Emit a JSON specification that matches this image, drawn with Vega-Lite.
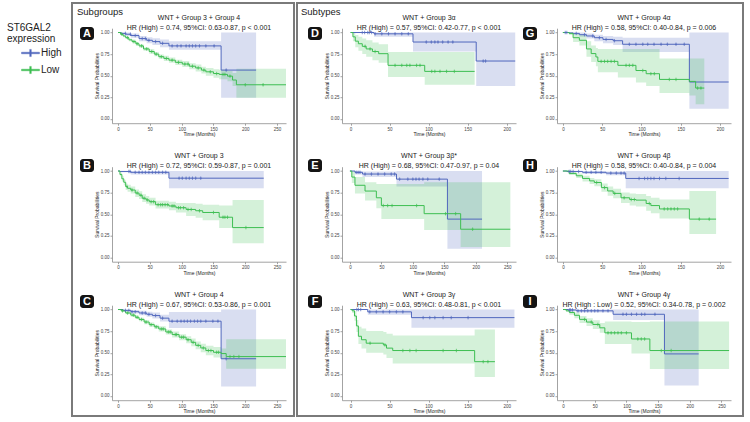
{
  "$schema": "https://vega.github.io/schema/vega-lite/v6.json",
  "padding": {"left": 7, "top": 2, "right": 0, "bottom": 0},
  "background": "white",
  "config": {
    "font": "Liberation Sans",
    "view": {"stroke": null},
    "range": {"category": ["#5067BD", "#3DBE52"]},
    "axis": {"grid": false, "domainColor": "#8c8c8c", "domainWidth": 0.8, "tickColor": "#8c8c8c", "tickWidth": 0.8, "tickSize": 2, "labelFont": "Liberation Sans", "labelFontSize": 4.5, "labelColor": "#444444", "labelPadding": 1, "labelFlush": false, "labelOverlap": false, "titleFont": "Liberation Sans", "titleFontSize": 5, "titleFontWeight": "normal", "titleColor": "#222222", "titlePadding": 1},
    "title": {"font": "Liberation Sans", "fontSize": 7, "fontWeight": "normal", "color": "#1a1a1a", "subtitleFont": "Liberation Sans", "subtitleFontSize": 7, "subtitleColor": "#1a1a1a", "subtitlePadding": 3, "offset": -2.5},
    "legend": {"orient": "none", "legendX": 0, "legendY": 21, "titleFont": "Liberation Sans", "titleFontSize": 10, "titleFontWeight": "normal", "titleColor": "#222222", "titleLineHeight": 10.5, "titlePadding": 0, "labelFont": "Liberation Sans", "labelFontSize": 10, "labelColor": "#222222", "labelOffset": 1, "symbolType": "M-1,-0.09H1V0.09H-1ZM-0.09,-0.4H0.09V0.4H-0.09Z", "symbolSize": 324, "symbolStrokeWidth": 0.4, "symbolOpacity": 1, "symbolOffset": 14, "rowPadding": 2, "padding": 0}
  },
  "datasets": {
    "km": [
      {"p":"A","g":"High","t":0,"s":1,"lo":1,"hi":1},
      {"p":"A","g":"High","t":5,"s":0.99,"lo":0.975,"hi":1},
      {"p":"A","g":"High","t":12,"s":0.98,"lo":0.96,"hi":1},
      {"p":"A","g":"High","t":20,"s":0.965,"lo":0.94,"hi":0.99},
      {"p":"A","g":"High","t":33,"s":0.93,"lo":0.9,"hi":0.96},
      {"p":"A","g":"High","t":45,"s":0.91,"lo":0.875,"hi":0.945},
      {"p":"A","g":"High","t":54,"s":0.895,"lo":0.855,"hi":0.935},
      {"p":"A","g":"High","t":66,"s":0.875,"lo":0.83,"hi":0.92},
      {"p":"A","g":"High","t":80,"s":0.845,"lo":0.8,"hi":0.9},
      {"p":"A","g":"High","t":162,"s":0.565,"lo":0.245,"hi":1},
      {"p":"A","g":"High","t":217,"s":0.565,"lo":0.245,"hi":1},
      {"p":"A","g":"High","t":11.6,"s":0.99,"c":1},
      {"p":"A","g":"High","t":19.5,"s":0.98,"c":1},
      {"p":"A","g":"High","t":27,"s":0.965,"c":1},
      {"p":"A","g":"High","t":38,"s":0.93,"c":1},
      {"p":"A","g":"High","t":43,"s":0.93,"c":1},
      {"p":"A","g":"High","t":48.5,"s":0.91,"c":1},
      {"p":"A","g":"High","t":59,"s":0.895,"c":1},
      {"p":"A","g":"High","t":70,"s":0.875,"c":1},
      {"p":"A","g":"High","t":85,"s":0.845,"c":1},
      {"p":"A","g":"High","t":93,"s":0.845,"c":1},
      {"p":"A","g":"High","t":99,"s":0.845,"c":1},
      {"p":"A","g":"High","t":107,"s":0.845,"c":1},
      {"p":"A","g":"High","t":112,"s":0.845,"c":1},
      {"p":"A","g":"High","t":117,"s":0.845,"c":1},
      {"p":"A","g":"High","t":122,"s":0.845,"c":1},
      {"p":"A","g":"High","t":128,"s":0.845,"c":1},
      {"p":"A","g":"High","t":138,"s":0.845,"c":1},
      {"p":"A","g":"High","t":151,"s":0.845,"c":1},
      {"p":"A","g":"High","t":170,"s":0.565,"c":1},
      {"p":"A","g":"Low","t":0,"s":1,"lo":1,"hi":1},
      {"p":"A","g":"Low","t":4,"s":0.98,"lo":0.97,"hi":0.99},
      {"p":"A","g":"Low","t":8,"s":0.96,"lo":0.945,"hi":0.975},
      {"p":"A","g":"Low","t":12,"s":0.94,"lo":0.925,"hi":0.955},
      {"p":"A","g":"Low","t":17,"s":0.915,"lo":0.9,"hi":0.93},
      {"p":"A","g":"Low","t":22,"s":0.895,"lo":0.875,"hi":0.915},
      {"p":"A","g":"Low","t":28,"s":0.87,"lo":0.85,"hi":0.89},
      {"p":"A","g":"Low","t":33,"s":0.845,"lo":0.825,"hi":0.865},
      {"p":"A","g":"Low","t":40,"s":0.81,"lo":0.79,"hi":0.83},
      {"p":"A","g":"Low","t":49,"s":0.78,"lo":0.755,"hi":0.805},
      {"p":"A","g":"Low","t":57,"s":0.75,"lo":0.725,"hi":0.775},
      {"p":"A","g":"Low","t":64,"s":0.72,"lo":0.695,"hi":0.745},
      {"p":"A","g":"Low","t":72,"s":0.7,"lo":0.67,"hi":0.73},
      {"p":"A","g":"Low","t":80,"s":0.68,"lo":0.65,"hi":0.71},
      {"p":"A","g":"Low","t":90,"s":0.655,"lo":0.625,"hi":0.685},
      {"p":"A","g":"Low","t":101,"s":0.635,"lo":0.6,"hi":0.67},
      {"p":"A","g":"Low","t":112,"s":0.61,"lo":0.575,"hi":0.645},
      {"p":"A","g":"Low","t":122,"s":0.59,"lo":0.55,"hi":0.63},
      {"p":"A","g":"Low","t":131,"s":0.565,"lo":0.525,"hi":0.605},
      {"p":"A","g":"Low","t":138,"s":0.545,"lo":0.5,"hi":0.59},
      {"p":"A","g":"Low","t":150,"s":0.525,"lo":0.475,"hi":0.575},
      {"p":"A","g":"Low","t":159,"s":0.515,"lo":0.46,"hi":0.57},
      {"p":"A","g":"Low","t":172,"s":0.495,"lo":0.435,"hi":0.555},
      {"p":"A","g":"Low","t":180,"s":0.45,"lo":0.38,"hi":0.53},
      {"p":"A","g":"Low","t":186,"s":0.395,"lo":0.245,"hi":0.58},
      {"p":"A","g":"Low","t":264,"s":0.395,"lo":0.245,"hi":0.58},
      {"p":"A","g":"Low","t":6,"s":0.98,"c":1},
      {"p":"A","g":"Low","t":15,"s":0.94,"c":1},
      {"p":"A","g":"Low","t":25,"s":0.895,"c":1},
      {"p":"A","g":"Low","t":30,"s":0.87,"c":1},
      {"p":"A","g":"Low","t":37,"s":0.845,"c":1},
      {"p":"A","g":"Low","t":45,"s":0.81,"c":1},
      {"p":"A","g":"Low","t":53,"s":0.78,"c":1},
      {"p":"A","g":"Low","t":60,"s":0.75,"c":1},
      {"p":"A","g":"Low","t":68,"s":0.72,"c":1},
      {"p":"A","g":"Low","t":76,"s":0.7,"c":1},
      {"p":"A","g":"Low","t":85,"s":0.68,"c":1},
      {"p":"A","g":"Low","t":95,"s":0.655,"c":1},
      {"p":"A","g":"Low","t":105,"s":0.635,"c":1},
      {"p":"A","g":"Low","t":110,"s":0.635,"c":1},
      {"p":"A","g":"Low","t":117,"s":0.61,"c":1},
      {"p":"A","g":"Low","t":126,"s":0.59,"c":1},
      {"p":"A","g":"Low","t":135,"s":0.565,"c":1},
      {"p":"A","g":"Low","t":145,"s":0.545,"c":1},
      {"p":"A","g":"Low","t":155,"s":0.525,"c":1},
      {"p":"A","g":"Low","t":165,"s":0.515,"c":1},
      {"p":"A","g":"Low","t":168,"s":0.515,"c":1},
      {"p":"A","g":"Low","t":176,"s":0.495,"c":1},
      {"p":"A","g":"Low","t":200,"s":0.395,"c":1},
      {"p":"A","g":"Low","t":228,"s":0.395,"c":1},

      {"p":"B","g":"High","t":0,"s":1,"lo":1,"hi":1},
      {"p":"B","g":"High","t":3,"s":0.995,"lo":0.985,"hi":1},
      {"p":"B","g":"High","t":20,"s":0.985,"lo":0.96,"hi":1},
      {"p":"B","g":"High","t":80,"s":0.917,"lo":0.8,"hi":1},
      {"p":"B","g":"High","t":229,"s":0.917,"lo":0.8,"hi":1},
      {"p":"B","g":"High","t":17,"s":0.995,"c":1},
      {"p":"B","g":"High","t":19,"s":0.995,"c":1},
      {"p":"B","g":"High","t":27,"s":0.985,"c":1},
      {"p":"B","g":"High","t":33,"s":0.985,"c":1},
      {"p":"B","g":"High","t":38,"s":0.985,"c":1},
      {"p":"B","g":"High","t":43,"s":0.985,"c":1},
      {"p":"B","g":"High","t":48.5,"s":0.985,"c":1},
      {"p":"B","g":"High","t":54,"s":0.985,"c":1},
      {"p":"B","g":"High","t":59,"s":0.985,"c":1},
      {"p":"B","g":"High","t":64,"s":0.985,"c":1},
      {"p":"B","g":"High","t":70,"s":0.985,"c":1},
      {"p":"B","g":"High","t":75,"s":0.985,"c":1},
      {"p":"B","g":"High","t":96,"s":0.917,"c":1},
      {"p":"B","g":"High","t":101,"s":0.917,"c":1},
      {"p":"B","g":"High","t":107,"s":0.917,"c":1},
      {"p":"B","g":"High","t":112,"s":0.917,"c":1},
      {"p":"B","g":"High","t":117,"s":0.917,"c":1},
      {"p":"B","g":"High","t":122,"s":0.917,"c":1},
      {"p":"B","g":"High","t":130,"s":0.917,"c":1},
      {"p":"B","g":"Low","t":0,"s":1,"lo":1,"hi":1},
      {"p":"B","g":"Low","t":3,"s":0.96,"lo":0.94,"hi":0.98},
      {"p":"B","g":"Low","t":6,"s":0.91,"lo":0.88,"hi":0.94},
      {"p":"B","g":"Low","t":9,"s":0.87,"lo":0.835,"hi":0.9},
      {"p":"B","g":"Low","t":12,"s":0.82,"lo":0.78,"hi":0.855},
      {"p":"B","g":"Low","t":15,"s":0.8,"lo":0.76,"hi":0.84},
      {"p":"B","g":"Low","t":20,"s":0.78,"lo":0.74,"hi":0.82},
      {"p":"B","g":"Low","t":27,"s":0.745,"lo":0.7,"hi":0.785},
      {"p":"B","g":"Low","t":33,"s":0.72,"lo":0.675,"hi":0.765},
      {"p":"B","g":"Low","t":38,"s":0.685,"lo":0.64,"hi":0.73},
      {"p":"B","g":"Low","t":44,"s":0.665,"lo":0.62,"hi":0.71},
      {"p":"B","g":"Low","t":49,"s":0.645,"lo":0.6,"hi":0.69},
      {"p":"B","g":"Low","t":59,"s":0.61,"lo":0.565,"hi":0.655},
      {"p":"B","g":"Low","t":80,"s":0.595,"lo":0.545,"hi":0.645},
      {"p":"B","g":"Low","t":91,"s":0.575,"lo":0.52,"hi":0.63},
      {"p":"B","g":"Low","t":107,"s":0.555,"lo":0.48,"hi":0.63},
      {"p":"B","g":"Low","t":122,"s":0.54,"lo":0.46,"hi":0.62},
      {"p":"B","g":"Low","t":133,"s":0.52,"lo":0.43,"hi":0.61},
      {"p":"B","g":"Low","t":159,"s":0.465,"lo":0.34,"hi":0.6},
      {"p":"B","g":"Low","t":180,"s":0.345,"lo":0.165,"hi":0.665},
      {"p":"B","g":"Low","t":229,"s":0.345,"lo":0.165,"hi":0.665},
      {"p":"B","g":"Low","t":14,"s":0.82,"c":1},
      {"p":"B","g":"Low","t":22,"s":0.78,"c":1},
      {"p":"B","g":"Low","t":30,"s":0.745,"c":1},
      {"p":"B","g":"Low","t":36,"s":0.72,"c":1},
      {"p":"B","g":"Low","t":41,"s":0.685,"c":1},
      {"p":"B","g":"Low","t":46,"s":0.665,"c":1},
      {"p":"B","g":"Low","t":52,"s":0.645,"c":1},
      {"p":"B","g":"Low","t":56,"s":0.645,"c":1},
      {"p":"B","g":"Low","t":63,"s":0.61,"c":1},
      {"p":"B","g":"Low","t":67,"s":0.61,"c":1},
      {"p":"B","g":"Low","t":70,"s":0.61,"c":1},
      {"p":"B","g":"Low","t":74,"s":0.61,"c":1},
      {"p":"B","g":"Low","t":78,"s":0.61,"c":1},
      {"p":"B","g":"Low","t":85,"s":0.595,"c":1},
      {"p":"B","g":"Low","t":88,"s":0.595,"c":1},
      {"p":"B","g":"Low","t":95,"s":0.575,"c":1},
      {"p":"B","g":"Low","t":98,"s":0.575,"c":1},
      {"p":"B","g":"Low","t":103,"s":0.575,"c":1},
      {"p":"B","g":"Low","t":110,"s":0.555,"c":1},
      {"p":"B","g":"Low","t":115,"s":0.555,"c":1},
      {"p":"B","g":"Low","t":128,"s":0.54,"c":1},
      {"p":"B","g":"Low","t":150,"s":0.52,"c":1},
      {"p":"B","g":"Low","t":165,"s":0.465,"c":1},
      {"p":"B","g":"Low","t":168,"s":0.465,"c":1},
      {"p":"B","g":"Low","t":172,"s":0.465,"c":1},
      {"p":"B","g":"Low","t":201,"s":0.345,"c":1},

      {"p":"C","g":"High","t":0,"s":1,"lo":1,"hi":1},
      {"p":"C","g":"High","t":8,"s":0.99,"lo":0.975,"hi":1},
      {"p":"C","g":"High","t":20,"s":0.975,"lo":0.955,"hi":0.995},
      {"p":"C","g":"High","t":33,"s":0.96,"lo":0.935,"hi":0.985},
      {"p":"C","g":"High","t":45,"s":0.945,"lo":0.915,"hi":0.975},
      {"p":"C","g":"High","t":54,"s":0.93,"lo":0.895,"hi":0.965},
      {"p":"C","g":"High","t":66,"s":0.9,"lo":0.86,"hi":0.94},
      {"p":"C","g":"High","t":80,"s":0.865,"lo":0.785,"hi":0.97},
      {"p":"C","g":"High","t":162,"s":0.43,"lo":0.11,"hi":1},
      {"p":"C","g":"High","t":217,"s":0.43,"lo":0.11,"hi":1},
      {"p":"C","g":"High","t":11.6,"s":0.99,"c":1},
      {"p":"C","g":"High","t":17,"s":0.99,"c":1},
      {"p":"C","g":"High","t":22,"s":0.975,"c":1},
      {"p":"C","g":"High","t":27,"s":0.975,"c":1},
      {"p":"C","g":"High","t":38,"s":0.96,"c":1},
      {"p":"C","g":"High","t":43,"s":0.96,"c":1},
      {"p":"C","g":"High","t":48.5,"s":0.945,"c":1},
      {"p":"C","g":"High","t":59,"s":0.93,"c":1},
      {"p":"C","g":"High","t":70,"s":0.9,"c":1},
      {"p":"C","g":"High","t":85,"s":0.865,"c":1},
      {"p":"C","g":"High","t":93,"s":0.865,"c":1},
      {"p":"C","g":"High","t":99,"s":0.865,"c":1},
      {"p":"C","g":"High","t":104,"s":0.865,"c":1},
      {"p":"C","g":"High","t":109,"s":0.865,"c":1},
      {"p":"C","g":"High","t":114,"s":0.865,"c":1},
      {"p":"C","g":"High","t":120,"s":0.865,"c":1},
      {"p":"C","g":"High","t":125,"s":0.865,"c":1},
      {"p":"C","g":"High","t":130,"s":0.865,"c":1},
      {"p":"C","g":"High","t":138,"s":0.865,"c":1},
      {"p":"C","g":"High","t":149,"s":0.865,"c":1},
      {"p":"C","g":"High","t":157,"s":0.865,"c":1},
      {"p":"C","g":"High","t":170,"s":0.43,"c":1},
      {"p":"C","g":"Low","t":0,"s":1,"lo":1,"hi":1},
      {"p":"C","g":"Low","t":5,"s":0.985,"lo":0.975,"hi":0.995},
      {"p":"C","g":"Low","t":12,"s":0.96,"lo":0.945,"hi":0.975},
      {"p":"C","g":"Low","t":20,"s":0.935,"lo":0.915,"hi":0.955},
      {"p":"C","g":"Low","t":27,"s":0.91,"lo":0.89,"hi":0.93},
      {"p":"C","g":"Low","t":33,"s":0.885,"lo":0.865,"hi":0.905},
      {"p":"C","g":"Low","t":41,"s":0.855,"lo":0.83,"hi":0.88},
      {"p":"C","g":"Low","t":49,"s":0.825,"lo":0.8,"hi":0.85},
      {"p":"C","g":"Low","t":57,"s":0.8,"lo":0.775,"hi":0.825},
      {"p":"C","g":"Low","t":64,"s":0.775,"lo":0.745,"hi":0.805},
      {"p":"C","g":"Low","t":75,"s":0.74,"lo":0.71,"hi":0.77},
      {"p":"C","g":"Low","t":85,"s":0.71,"lo":0.675,"hi":0.745},
      {"p":"C","g":"Low","t":96,"s":0.68,"lo":0.645,"hi":0.715},
      {"p":"C","g":"Low","t":107,"s":0.65,"lo":0.61,"hi":0.69},
      {"p":"C","g":"Low","t":115,"s":0.62,"lo":0.575,"hi":0.665},
      {"p":"C","g":"Low","t":122,"s":0.585,"lo":0.54,"hi":0.63},
      {"p":"C","g":"Low","t":130,"s":0.555,"lo":0.505,"hi":0.605},
      {"p":"C","g":"Low","t":138,"s":0.525,"lo":0.47,"hi":0.58},
      {"p":"C","g":"Low","t":150,"s":0.505,"lo":0.445,"hi":0.565},
      {"p":"C","g":"Low","t":162,"s":0.49,"lo":0.43,"hi":0.55},
      {"p":"C","g":"Low","t":170,"s":0.455,"lo":0.315,"hi":0.655},
      {"p":"C","g":"Low","t":264,"s":0.455,"lo":0.315,"hi":0.655},
      {"p":"C","g":"Low","t":7,"s":0.985,"c":1},
      {"p":"C","g":"Low","t":15,"s":0.96,"c":1},
      {"p":"C","g":"Low","t":24,"s":0.935,"c":1},
      {"p":"C","g":"Low","t":30,"s":0.91,"c":1},
      {"p":"C","g":"Low","t":37,"s":0.885,"c":1},
      {"p":"C","g":"Low","t":44,"s":0.855,"c":1},
      {"p":"C","g":"Low","t":52,"s":0.825,"c":1},
      {"p":"C","g":"Low","t":60,"s":0.8,"c":1},
      {"p":"C","g":"Low","t":68,"s":0.775,"c":1},
      {"p":"C","g":"Low","t":71,"s":0.775,"c":1},
      {"p":"C","g":"Low","t":79,"s":0.74,"c":1},
      {"p":"C","g":"Low","t":82,"s":0.74,"c":1},
      {"p":"C","g":"Low","t":90,"s":0.71,"c":1},
      {"p":"C","g":"Low","t":92,"s":0.71,"c":1},
      {"p":"C","g":"Low","t":100,"s":0.68,"c":1},
      {"p":"C","g":"Low","t":103,"s":0.68,"c":1},
      {"p":"C","g":"Low","t":110,"s":0.65,"c":1},
      {"p":"C","g":"Low","t":118,"s":0.62,"c":1},
      {"p":"C","g":"Low","t":126,"s":0.585,"c":1},
      {"p":"C","g":"Low","t":134,"s":0.555,"c":1},
      {"p":"C","g":"Low","t":142,"s":0.525,"c":1},
      {"p":"C","g":"Low","t":146,"s":0.525,"c":1},
      {"p":"C","g":"Low","t":155,"s":0.505,"c":1},
      {"p":"C","g":"Low","t":158,"s":0.505,"c":1},
      {"p":"C","g":"Low","t":176,"s":0.455,"c":1},
      {"p":"C","g":"Low","t":182,"s":0.455,"c":1},
      {"p":"C","g":"Low","t":190,"s":0.455,"c":1},

      {"p":"D","g":"High","t":0,"s":1,"lo":1,"hi":1},
      {"p":"D","g":"High","t":30,"s":0.985,"lo":0.95,"hi":1},
      {"p":"D","g":"High","t":80,"s":0.89,"lo":0.78,"hi":1},
      {"p":"D","g":"High","t":161,"s":0.67,"lo":0.38,"hi":1},
      {"p":"D","g":"High","t":211,"s":0.67,"lo":0.38,"hi":1},
      {"p":"D","g":"High","t":15,"s":1,"c":1},
      {"p":"D","g":"High","t":18,"s":1,"c":1},
      {"p":"D","g":"High","t":22,"s":1,"c":1},
      {"p":"D","g":"High","t":24,"s":1,"c":1},
      {"p":"D","g":"High","t":27,"s":1,"c":1},
      {"p":"D","g":"High","t":31.5,"s":0.985,"c":1},
      {"p":"D","g":"High","t":40,"s":0.985,"c":1},
      {"p":"D","g":"High","t":48.6,"s":0.985,"c":1},
      {"p":"D","g":"High","t":57,"s":0.985,"c":1},
      {"p":"D","g":"High","t":65.6,"s":0.985,"c":1},
      {"p":"D","g":"High","t":74,"s":0.985,"c":1},
      {"p":"D","g":"High","t":97,"s":0.89,"c":1},
      {"p":"D","g":"High","t":103.5,"s":0.89,"c":1},
      {"p":"D","g":"High","t":108,"s":0.89,"c":1},
      {"p":"D","g":"High","t":112,"s":0.89,"c":1},
      {"p":"D","g":"High","t":118,"s":0.89,"c":1},
      {"p":"D","g":"High","t":125,"s":0.89,"c":1},
      {"p":"D","g":"High","t":131,"s":0.89,"c":1},
      {"p":"D","g":"High","t":170,"s":0.67,"c":1},
      {"p":"D","g":"High","t":173,"s":0.67,"c":1},
      {"p":"D","g":"Low","t":0,"s":1,"lo":1,"hi":1},
      {"p":"D","g":"Low","t":3,"s":0.95,"lo":0.9,"hi":1},
      {"p":"D","g":"Low","t":6,"s":0.9,"lo":0.83,"hi":0.97},
      {"p":"D","g":"Low","t":10,"s":0.87,"lo":0.79,"hi":0.95},
      {"p":"D","g":"Low","t":15,"s":0.84,"lo":0.75,"hi":0.93},
      {"p":"D","g":"Low","t":20,"s":0.81,"lo":0.72,"hi":0.91},
      {"p":"D","g":"Low","t":28,"s":0.78,"lo":0.68,"hi":0.885},
      {"p":"D","g":"Low","t":36,"s":0.755,"lo":0.65,"hi":0.865},
      {"p":"D","g":"Low","t":48,"s":0.62,"lo":0.485,"hi":0.775},
      {"p":"D","g":"Low","t":95,"s":0.55,"lo":0.395,"hi":0.775},
      {"p":"D","g":"Low","t":159,"s":0.55,"lo":0.395,"hi":0.775},
      {"p":"D","g":"Low","t":18.6,"s":0.84,"c":1},
      {"p":"D","g":"Low","t":25,"s":0.81,"c":1},
      {"p":"D","g":"Low","t":31.4,"s":0.78,"c":1},
      {"p":"D","g":"Low","t":57,"s":0.62,"c":1},
      {"p":"D","g":"Low","t":65.6,"s":0.62,"c":1},
      {"p":"D","g":"Low","t":72,"s":0.62,"c":1},
      {"p":"D","g":"Low","t":76,"s":0.62,"c":1},
      {"p":"D","g":"Low","t":84.6,"s":0.62,"c":1},
      {"p":"D","g":"Low","t":89,"s":0.62,"c":1},
      {"p":"D","g":"Low","t":104,"s":0.55,"c":1},
      {"p":"D","g":"Low","t":108,"s":0.55,"c":1},
      {"p":"D","g":"Low","t":114.6,"s":0.55,"c":1},
      {"p":"D","g":"Low","t":123,"s":0.55,"c":1},
      {"p":"D","g":"Low","t":133,"s":0.55,"c":1},

      {"p":"E","g":"High","t":0,"s":1,"lo":1,"hi":1},
      {"p":"E","g":"High","t":8,"s":0.985,"lo":0.96,"hi":1},
      {"p":"E","g":"High","t":20,"s":0.965,"lo":0.93,"hi":0.995},
      {"p":"E","g":"High","t":74,"s":0.906,"lo":0.82,"hi":1},
      {"p":"E","g":"High","t":155,"s":0.443,"lo":0.1,"hi":1},
      {"p":"E","g":"High","t":210,"s":0.443,"lo":0.1,"hi":1},
      {"p":"E","g":"High","t":10,"s":0.985,"c":1},
      {"p":"E","g":"High","t":13,"s":0.985,"c":1},
      {"p":"E","g":"High","t":16,"s":0.985,"c":1},
      {"p":"E","g":"High","t":24,"s":0.965,"c":1},
      {"p":"E","g":"High","t":34.2,"s":0.965,"c":1},
      {"p":"E","g":"High","t":44.7,"s":0.965,"c":1},
      {"p":"E","g":"High","t":55.2,"s":0.965,"c":1},
      {"p":"E","g":"High","t":65.7,"s":0.965,"c":1},
      {"p":"E","g":"High","t":71,"s":0.965,"c":1},
      {"p":"E","g":"High","t":79,"s":0.906,"c":1},
      {"p":"E","g":"High","t":92,"s":0.906,"c":1},
      {"p":"E","g":"High","t":100,"s":0.906,"c":1},
      {"p":"E","g":"High","t":105,"s":0.906,"c":1},
      {"p":"E","g":"High","t":110,"s":0.906,"c":1},
      {"p":"E","g":"High","t":116,"s":0.906,"c":1},
      {"p":"E","g":"High","t":123.7,"s":0.906,"c":1},
      {"p":"E","g":"High","t":142,"s":0.906,"c":1},
      {"p":"E","g":"Low","t":0,"s":1,"lo":1,"hi":1},
      {"p":"E","g":"Low","t":3,"s":0.93,"lo":0.86,"hi":1},
      {"p":"E","g":"Low","t":8,"s":0.835,"lo":0.74,"hi":0.93},
      {"p":"E","g":"Low","t":24,"s":0.768,"lo":0.66,"hi":0.87},
      {"p":"E","g":"Low","t":42,"s":0.69,"lo":0.57,"hi":0.85},
      {"p":"E","g":"Low","t":50,"s":0.6,"lo":0.445,"hi":0.85},
      {"p":"E","g":"Low","t":118,"s":0.506,"lo":0.318,"hi":0.87},
      {"p":"E","g":"Low","t":176,"s":0.326,"lo":0.12,"hi":0.87},
      {"p":"E","g":"Low","t":255,"s":0.326,"lo":0.12,"hi":0.87},
      {"p":"E","g":"Low","t":53,"s":0.6,"c":1},
      {"p":"E","g":"Low","t":60,"s":0.6,"c":1},
      {"p":"E","g":"Low","t":67,"s":0.6,"c":1},
      {"p":"E","g":"Low","t":106,"s":0.6,"c":1},
      {"p":"E","g":"Low","t":152,"s":0.506,"c":1},
      {"p":"E","g":"Low","t":168,"s":0.506,"c":1},
      {"p":"E","g":"Low","t":195,"s":0.326,"c":1},

      {"p":"F","g":"High","t":0,"s":1,"lo":1,"hi":1},
      {"p":"F","g":"High","t":22,"s":0.973,"lo":0.94,"hi":1},
      {"p":"F","g":"High","t":78,"s":0.906,"lo":0.79,"hi":1},
      {"p":"F","g":"High","t":210,"s":0.906,"lo":0.79,"hi":1},
      {"p":"F","g":"High","t":8,"s":1,"c":1},
      {"p":"F","g":"High","t":10,"s":1,"c":1},
      {"p":"F","g":"High","t":13,"s":1,"c":1},
      {"p":"F","g":"High","t":24.6,"s":0.973,"c":1},
      {"p":"F","g":"High","t":33,"s":0.973,"c":1},
      {"p":"F","g":"High","t":41.7,"s":0.973,"c":1},
      {"p":"F","g":"High","t":50,"s":0.973,"c":1},
      {"p":"F","g":"High","t":58.7,"s":0.973,"c":1},
      {"p":"F","g":"High","t":67,"s":0.973,"c":1},
      {"p":"F","g":"High","t":93,"s":0.906,"c":1},
      {"p":"F","g":"High","t":101.5,"s":0.906,"c":1},
      {"p":"F","g":"High","t":108,"s":0.906,"c":1},
      {"p":"F","g":"High","t":118.6,"s":0.906,"c":1},
      {"p":"F","g":"High","t":129,"s":0.906,"c":1},
      {"p":"F","g":"High","t":150.6,"s":0.906,"c":1},
      {"p":"F","g":"Low","t":0,"s":1,"lo":1,"hi":1},
      {"p":"F","g":"Low","t":2,"s":0.985,"lo":0.96,"hi":1},
      {"p":"F","g":"Low","t":5,"s":0.925,"lo":0.87,"hi":0.98},
      {"p":"F","g":"Low","t":7.5,"s":0.81,"lo":0.74,"hi":0.88},
      {"p":"F","g":"Low","t":10,"s":0.69,"lo":0.6,"hi":0.8},
      {"p":"F","g":"Low","t":14,"s":0.65,"lo":0.55,"hi":0.78},
      {"p":"F","g":"Low","t":20,"s":0.61,"lo":0.5,"hi":0.75},
      {"p":"F","g":"Low","t":42,"s":0.59,"lo":0.48,"hi":0.74},
      {"p":"F","g":"Low","t":46,"s":0.553,"lo":0.44,"hi":0.72},
      {"p":"F","g":"Low","t":54,"s":0.525,"lo":0.376,"hi":0.7},
      {"p":"F","g":"Low","t":159,"s":0.396,"lo":0.22,"hi":0.77},
      {"p":"F","g":"Low","t":185,"s":0.396,"lo":0.22,"hi":0.77},
      {"p":"F","g":"Low","t":25,"s":0.61,"c":1},
      {"p":"F","g":"Low","t":44,"s":0.59,"c":1},
      {"p":"F","g":"Low","t":67,"s":0.525,"c":1},
      {"p":"F","g":"Low","t":76,"s":0.525,"c":1},
      {"p":"F","g":"Low","t":84,"s":0.525,"c":1},
      {"p":"F","g":"Low","t":118.6,"s":0.525,"c":1},
      {"p":"F","g":"Low","t":135.6,"s":0.525,"c":1},
      {"p":"F","g":"Low","t":170,"s":0.396,"c":1},
      {"p":"F","g":"Low","t":176,"s":0.396,"c":1},

      {"p":"G","g":"High","t":0,"s":1,"lo":1,"hi":1},
      {"p":"G","g":"High","t":8,"s":0.995,"lo":0.985,"hi":1},
      {"p":"G","g":"High","t":13,"s":0.99,"lo":0.97,"hi":1},
      {"p":"G","g":"High","t":21,"s":0.975,"lo":0.95,"hi":1},
      {"p":"G","g":"High","t":30,"s":0.96,"lo":0.93,"hi":0.99},
      {"p":"G","g":"High","t":40,"s":0.94,"lo":0.9,"hi":0.975},
      {"p":"G","g":"High","t":51,"s":0.92,"lo":0.875,"hi":0.96},
      {"p":"G","g":"High","t":64,"s":0.905,"lo":0.855,"hi":0.95},
      {"p":"G","g":"High","t":76,"s":0.864,"lo":0.775,"hi":0.94},
      {"p":"G","g":"High","t":161,"s":0.427,"lo":0.116,"hi":1},
      {"p":"G","g":"High","t":211,"s":0.427,"lo":0.116,"hi":1},
      {"p":"G","g":"High","t":3,"s":1,"c":1},
      {"p":"G","g":"High","t":5,"s":1,"c":1},
      {"p":"G","g":"High","t":17,"s":0.99,"c":1},
      {"p":"G","g":"High","t":27.5,"s":0.975,"c":1},
      {"p":"G","g":"High","t":38,"s":0.96,"c":1},
      {"p":"G","g":"High","t":46.5,"s":0.94,"c":1},
      {"p":"G","g":"High","t":55,"s":0.92,"c":1},
      {"p":"G","g":"High","t":65.6,"s":0.905,"c":1},
      {"p":"G","g":"High","t":84.6,"s":0.864,"c":1},
      {"p":"G","g":"High","t":93,"s":0.864,"c":1},
      {"p":"G","g":"High","t":101.7,"s":0.864,"c":1},
      {"p":"G","g":"High","t":108,"s":0.864,"c":1},
      {"p":"G","g":"High","t":116,"s":0.864,"c":1},
      {"p":"G","g":"High","t":125,"s":0.864,"c":1},
      {"p":"G","g":"High","t":133,"s":0.864,"c":1},
      {"p":"G","g":"High","t":144,"s":0.864,"c":1},
      {"p":"G","g":"High","t":154.5,"s":0.864,"c":1},
      {"p":"G","g":"Low","t":0,"s":1,"lo":1,"hi":1},
      {"p":"G","g":"Low","t":8,"s":0.99,"lo":0.97,"hi":1},
      {"p":"G","g":"Low","t":13,"s":0.94,"lo":0.89,"hi":0.99},
      {"p":"G","g":"Low","t":21,"s":0.91,"lo":0.85,"hi":0.97},
      {"p":"G","g":"Low","t":30,"s":0.81,"lo":0.72,"hi":0.9},
      {"p":"G","g":"Low","t":36,"s":0.756,"lo":0.66,"hi":0.85},
      {"p":"G","g":"Low","t":42,"s":0.717,"lo":0.61,"hi":0.82},
      {"p":"G","g":"Low","t":44.5,"s":0.666,"lo":0.54,"hi":0.81},
      {"p":"G","g":"Low","t":70,"s":0.62,"lo":0.48,"hi":0.81},
      {"p":"G","g":"Low","t":93,"s":0.56,"lo":0.42,"hi":0.81},
      {"p":"G","g":"Low","t":106,"s":0.523,"lo":0.38,"hi":0.81},
      {"p":"G","g":"Low","t":123,"s":0.457,"lo":0.3,"hi":0.7},
      {"p":"G","g":"Low","t":161,"s":0.434,"lo":0.27,"hi":0.7},
      {"p":"G","g":"Low","t":169,"s":0.357,"lo":0.17,"hi":0.7},
      {"p":"G","g":"Low","t":180,"s":0.357,"lo":0.17,"hi":0.7},
      {"p":"G","g":"Low","t":48.7,"s":0.666,"c":1},
      {"p":"G","g":"Low","t":53,"s":0.666,"c":1},
      {"p":"G","g":"Low","t":57,"s":0.666,"c":1},
      {"p":"G","g":"Low","t":61.4,"s":0.666,"c":1},
      {"p":"G","g":"Low","t":65.6,"s":0.666,"c":1},
      {"p":"G","g":"Low","t":80.4,"s":0.62,"c":1},
      {"p":"G","g":"Low","t":84.6,"s":0.62,"c":1},
      {"p":"G","g":"Low","t":89,"s":0.62,"c":1},
      {"p":"G","g":"Low","t":101.7,"s":0.56,"c":1},
      {"p":"G","g":"Low","t":112,"s":0.523,"c":1},
      {"p":"G","g":"Low","t":116.4,"s":0.523,"c":1},
      {"p":"G","g":"Low","t":135.5,"s":0.457,"c":1},
      {"p":"G","g":"Low","t":144,"s":0.457,"c":1},
      {"p":"G","g":"Low","t":171.5,"s":0.357,"c":1},
      {"p":"G","g":"Low","t":175.7,"s":0.357,"c":1},

      {"p":"H","g":"High","t":0,"s":1,"lo":1,"hi":1},
      {"p":"H","g":"High","t":5,"s":0.995,"lo":0.985,"hi":1},
      {"p":"H","g":"High","t":25,"s":0.985,"lo":0.965,"hi":1},
      {"p":"H","g":"High","t":55,"s":0.976,"lo":0.95,"hi":0.995},
      {"p":"H","g":"High","t":80,"s":0.914,"lo":0.8,"hi":1},
      {"p":"H","g":"High","t":211,"s":0.914,"lo":0.8,"hi":1},
      {"p":"H","g":"High","t":8,"s":0.995,"c":1},
      {"p":"H","g":"High","t":10,"s":0.995,"c":1},
      {"p":"H","g":"High","t":13,"s":0.995,"c":1},
      {"p":"H","g":"High","t":20,"s":0.995,"c":1},
      {"p":"H","g":"High","t":29.6,"s":0.985,"c":1},
      {"p":"H","g":"High","t":36,"s":0.985,"c":1},
      {"p":"H","g":"High","t":42,"s":0.985,"c":1},
      {"p":"H","g":"High","t":48.7,"s":0.985,"c":1},
      {"p":"H","g":"High","t":61,"s":0.976,"c":1},
      {"p":"H","g":"High","t":68,"s":0.976,"c":1},
      {"p":"H","g":"High","t":74,"s":0.976,"c":1},
      {"p":"H","g":"High","t":78,"s":0.976,"c":1},
      {"p":"H","g":"High","t":97,"s":0.914,"c":1},
      {"p":"H","g":"High","t":104,"s":0.914,"c":1},
      {"p":"H","g":"High","t":108,"s":0.914,"c":1},
      {"p":"H","g":"High","t":112,"s":0.914,"c":1},
      {"p":"H","g":"High","t":116,"s":0.914,"c":1},
      {"p":"H","g":"High","t":123,"s":0.914,"c":1},
      {"p":"H","g":"High","t":131,"s":0.914,"c":1},
      {"p":"H","g":"High","t":148,"s":0.914,"c":1},
      {"p":"H","g":"Low","t":0,"s":1,"lo":1,"hi":1},
      {"p":"H","g":"Low","t":8,"s":0.972,"lo":0.955,"hi":0.99},
      {"p":"H","g":"Low","t":17,"s":0.945,"lo":0.92,"hi":0.97},
      {"p":"H","g":"Low","t":25,"s":0.914,"lo":0.88,"hi":0.945},
      {"p":"H","g":"Low","t":34,"s":0.886,"lo":0.85,"hi":0.92},
      {"p":"H","g":"Low","t":40,"s":0.867,"lo":0.825,"hi":0.905},
      {"p":"H","g":"Low","t":49,"s":0.808,"lo":0.76,"hi":0.855},
      {"p":"H","g":"Low","t":57,"s":0.769,"lo":0.715,"hi":0.82},
      {"p":"H","g":"Low","t":64,"s":0.741,"lo":0.685,"hi":0.795},
      {"p":"H","g":"Low","t":74,"s":0.69,"lo":0.63,"hi":0.75},
      {"p":"H","g":"Low","t":85,"s":0.67,"lo":0.6,"hi":0.74},
      {"p":"H","g":"Low","t":93,"s":0.663,"lo":0.59,"hi":0.735},
      {"p":"H","g":"Low","t":106,"s":0.624,"lo":0.54,"hi":0.71},
      {"p":"H","g":"Low","t":112,"s":0.6,"lo":0.51,"hi":0.69},
      {"p":"H","g":"Low","t":123,"s":0.561,"lo":0.45,"hi":0.67},
      {"p":"H","g":"Low","t":161,"s":0.443,"lo":0.27,"hi":0.77},
      {"p":"H","g":"Low","t":195,"s":0.443,"lo":0.27,"hi":0.77},
      {"p":"H","g":"Low","t":43,"s":0.867,"c":1},
      {"p":"H","g":"Low","t":53,"s":0.808,"c":1},
      {"p":"H","g":"Low","t":66,"s":0.741,"c":1},
      {"p":"H","g":"Low","t":78,"s":0.69,"c":1},
      {"p":"H","g":"Low","t":87,"s":0.67,"c":1},
      {"p":"H","g":"Low","t":91,"s":0.67,"c":1},
      {"p":"H","g":"Low","t":110,"s":0.624,"c":1},
      {"p":"H","g":"Low","t":129,"s":0.561,"c":1},
      {"p":"H","g":"Low","t":133.4,"s":0.561,"c":1},
      {"p":"H","g":"Low","t":137.6,"s":0.561,"c":1},
      {"p":"H","g":"Low","t":141.8,"s":0.561,"c":1},
      {"p":"H","g":"Low","t":146,"s":0.561,"c":1},
      {"p":"H","g":"Low","t":173.6,"s":0.443,"c":1},
      {"p":"H","g":"Low","t":186.3,"s":0.443,"c":1},

      {"p":"I","g":"High","t":0,"s":1,"lo":1,"hi":1},
      {"p":"I","g":"High","t":8,"s":0.995,"lo":0.98,"hi":1},
      {"p":"I","g":"High","t":21,"s":0.985,"lo":0.965,"hi":1},
      {"p":"I","g":"High","t":79,"s":0.945,"lo":0.88,"hi":1},
      {"p":"I","g":"High","t":160,"s":0.486,"lo":0.12,"hi":1},
      {"p":"I","g":"High","t":214,"s":0.486,"lo":0.12,"hi":1},
      {"p":"I","g":"High","t":10,"s":0.995,"c":1},
      {"p":"I","g":"High","t":12,"s":0.995,"c":1},
      {"p":"I","g":"High","t":15,"s":0.995,"c":1},
      {"p":"I","g":"High","t":23.6,"s":0.985,"c":1},
      {"p":"I","g":"High","t":29,"s":0.985,"c":1},
      {"p":"I","g":"High","t":34,"s":0.985,"c":1},
      {"p":"I","g":"High","t":39,"s":0.985,"c":1},
      {"p":"I","g":"High","t":44.6,"s":0.985,"c":1},
      {"p":"I","g":"High","t":50,"s":0.985,"c":1},
      {"p":"I","g":"High","t":55,"s":0.985,"c":1},
      {"p":"I","g":"High","t":63,"s":0.985,"c":1},
      {"p":"I","g":"High","t":71,"s":0.985,"c":1},
      {"p":"I","g":"High","t":94.6,"s":0.945,"c":1},
      {"p":"I","g":"High","t":100,"s":0.945,"c":1},
      {"p":"I","g":"High","t":108,"s":0.945,"c":1},
      {"p":"I","g":"High","t":116,"s":0.945,"c":1},
      {"p":"I","g":"High","t":124,"s":0.945,"c":1},
      {"p":"I","g":"High","t":129,"s":0.945,"c":1},
      {"p":"I","g":"High","t":145,"s":0.945,"c":1},
      {"p":"I","g":"Low","t":0,"s":1,"lo":1,"hi":1},
      {"p":"I","g":"Low","t":5,"s":0.985,"lo":0.97,"hi":1},
      {"p":"I","g":"Low","t":10,"s":0.965,"lo":0.94,"hi":0.99},
      {"p":"I","g":"Low","t":18,"s":0.933,"lo":0.9,"hi":0.965},
      {"p":"I","g":"Low","t":26,"s":0.886,"lo":0.845,"hi":0.925},
      {"p":"I","g":"Low","t":37,"s":0.855,"lo":0.81,"hi":0.9},
      {"p":"I","g":"Low","t":47,"s":0.827,"lo":0.775,"hi":0.875},
      {"p":"I","g":"Low","t":58,"s":0.788,"lo":0.73,"hi":0.845},
      {"p":"I","g":"Low","t":66,"s":0.73,"lo":0.6,"hi":0.86},
      {"p":"I","g":"Low","t":108,"s":0.659,"lo":0.49,"hi":0.855},
      {"p":"I","g":"Low","t":137,"s":0.525,"lo":0.31,"hi":0.86},
      {"p":"I","g":"Low","t":262,"s":0.525,"lo":0.31,"hi":0.86},
      {"p":"I","g":"Low","t":34,"s":0.886,"c":1},
      {"p":"I","g":"Low","t":44.6,"s":0.855,"c":1},
      {"p":"I","g":"Low","t":55,"s":0.827,"c":1},
      {"p":"I","g":"Low","t":71,"s":0.73,"c":1},
      {"p":"I","g":"Low","t":76,"s":0.73,"c":1},
      {"p":"I","g":"Low","t":81.4,"s":0.73,"c":1},
      {"p":"I","g":"Low","t":86.7,"s":0.73,"c":1},
      {"p":"I","g":"Low","t":92,"s":0.73,"c":1},
      {"p":"I","g":"Low","t":100,"s":0.73,"c":1},
      {"p":"I","g":"Low","t":118,"s":0.659,"c":1},
      {"p":"I","g":"Low","t":123.5,"s":0.659,"c":1},
      {"p":"I","g":"Low","t":128.7,"s":0.659,"c":1},
      {"p":"I","g":"Low","t":155,"s":0.525,"c":1},
      {"p":"I","g":"Low","t":170.6,"s":0.525,"c":1}
    ]
  },
  "spacing": 1,
  "hconcat": [
    {"width": 63, "height": 1, "data": {"values": []}, "mark": "point"},
    {
      "title": {"text": "Subgroups", "anchor": "start", "offset": -14, "dx": 6, "fontSize": 9.5, "color": "#222222", "fontWeight": "normal"},
      "spacing": 0,
      "hconcat": [
        {"width": 2, "height": 415, "view": {"fill": "#7a7a7a", "stroke": null}, "data": {"values": []}, "mark": "point"},
        {
          "spacing": 0,
          "vconcat": [
            {"width": 220, "height": 2, "view": {"fill": "#7a7a7a", "stroke": null}, "data": {"values": []}, "mark": "point"},
            {
              "spacing": 0,
              "hconcat": [
                {"width": 7, "height": 411, "data": {"values": []}, "mark": "point"},
                {"spacing": 0, "vconcat": [
                  {"width": 1, "height": 22.5, "data": {"values": []}, "mark": "point"},
                  {"width": 14, "height": 13, "view": {"fill": "#141414", "stroke": null, "cornerRadius": 3}, "data": {"values": [{}]}, "mark": {"type": "text", "text": "A", "color": "#ffffff", "fontSize": 11, "fontWeight": "bold", "baseline": "middle", "align": "center", "dy": 0.5}},
                  {"width": 1, "height": 119, "data": {"values": []}, "mark": "point"},
                  {"width": 14, "height": 13, "view": {"fill": "#141414", "stroke": null, "cornerRadius": 3}, "data": {"values": [{}]}, "mark": {"type": "text", "text": "B", "color": "#ffffff", "fontSize": 11, "fontWeight": "bold", "baseline": "middle", "align": "center", "dy": 0.5}},
                  {"width": 1, "height": 123, "data": {"values": []}, "mark": "point"},
                  {"width": 14, "height": 13, "view": {"fill": "#141414", "stroke": null, "cornerRadius": 3}, "data": {"values": [{}]}, "mark": {"type": "text", "text": "C", "color": "#ffffff", "fontSize": 11, "fontWeight": "bold", "baseline": "middle", "align": "center", "dy": 0.5}}
                ]},
                {"spacing": 8.2, "vconcat": [
                  {"width": 1, "height": 0.5, "data": {"values": []}, "mark": "point"},
                  {"spacing": 14.5, "vconcat": [
                    {"width": 174, "height": 95,
                     "title": {"text": "WNT + Group 3 + Group 4", "subtitle": "HR (High) = 0.74, 95%CI: 0.63-0.87, p < 0.001"},
                     "data": {"name": "km"}, "transform": [{"filter": {"field": "p", "equal": "A"}}],
                     "encoding": {
                       "x": {"field": "t", "type": "quantitative", "title": "Time (Months)", "scale": {"domain": [-9.5, 264], "nice": false, "zero": false}, "axis": {"values": [0, 50, 100, 150, 200, 250]}},
                       "y": {"field": "s", "type": "quantitative", "title": "Survival Probabilities", "scale": {"domain": [-0.05, 1.05], "nice": false, "zero": false}, "axis": {"values": [0, 0.25, 0.5, 0.75, 1], "format": ".2f"}},
                       "color": {"field": "g", "type": "nominal", "legend": {"title": ["ST6GAL2", "expression"]}}
                     },
                     "layer": [
                       {"transform": [{"filter": {"field": "lo", "valid": true}}], "mark": {"type": "area", "interpolate": "step-after", "opacity": 0.22},
                        "encoding": {"y": {"field": "lo", "type": "quantitative", "title": "Survival Probabilities", "scale": {"domain": [-0.05, 1.05], "nice": false, "zero": false}, "axis": {"values": [0, 0.25, 0.5, 0.75, 1], "format": ".2f"}}, "y2": {"field": "hi"}}},
                       {"mark": {"type": "line", "interpolate": "step-after", "strokeWidth": 1}},
                       {"transform": [{"filter": {"field": "c", "equal": 1}}], "mark": {"type": "point", "shape": "M0,-1V1M-0.6,0H0.6", "size": 12, "filled": false, "strokeWidth": 0.7, "opacity": 1}}
                     ]},
                    {"width": 174, "height": 95,
                     "title": {"text": "WNT + Group 3", "subtitle": "HR (High) = 0.72, 95%CI: 0.59-0.87, p = 0.001"},
                     "data": {"name": "km"}, "transform": [{"filter": {"field": "p", "equal": "B"}}],
                     "encoding": {
                       "x": {"field": "t", "type": "quantitative", "title": "Time (Months)", "scale": {"domain": [-9.5, 264], "nice": false, "zero": false}, "axis": {"values": [0, 50, 100, 150, 200, 250]}},
                       "y": {"field": "s", "type": "quantitative", "title": "Survival Probabilities", "scale": {"domain": [-0.05, 1.05], "nice": false, "zero": false}, "axis": {"values": [0, 0.25, 0.5, 0.75, 1], "format": ".2f"}},
                       "color": {"field": "g", "type": "nominal", "legend": {"title": ["ST6GAL2", "expression"]}}
                     },
                     "layer": [
                       {"transform": [{"filter": {"field": "lo", "valid": true}}], "mark": {"type": "area", "interpolate": "step-after", "opacity": 0.22},
                        "encoding": {"y": {"field": "lo", "type": "quantitative", "title": "Survival Probabilities", "scale": {"domain": [-0.05, 1.05], "nice": false, "zero": false}, "axis": {"values": [0, 0.25, 0.5, 0.75, 1], "format": ".2f"}}, "y2": {"field": "hi"}}},
                       {"mark": {"type": "line", "interpolate": "step-after", "strokeWidth": 1}},
                       {"transform": [{"filter": {"field": "c", "equal": 1}}], "mark": {"type": "point", "shape": "M0,-1V1M-0.6,0H0.6", "size": 12, "filled": false, "strokeWidth": 0.7, "opacity": 1}}
                     ]},
                    {"width": 174, "height": 95,
                     "title": {"text": "WNT + Group 4", "subtitle": "HR (High) = 0.67, 95%CI: 0.53-0.86, p = 0.001"},
                     "data": {"name": "km"}, "transform": [{"filter": {"field": "p", "equal": "C"}}],
                     "encoding": {
                       "x": {"field": "t", "type": "quantitative", "title": "Time (Months)", "scale": {"domain": [-9.5, 264], "nice": false, "zero": false}, "axis": {"values": [0, 50, 100, 150, 200, 250]}},
                       "y": {"field": "s", "type": "quantitative", "title": "Survival Probabilities", "scale": {"domain": [-0.05, 1.05], "nice": false, "zero": false}, "axis": {"values": [0, 0.25, 0.5, 0.75, 1], "format": ".2f"}},
                       "color": {"field": "g", "type": "nominal", "legend": {"title": ["ST6GAL2", "expression"]}}
                     },
                     "layer": [
                       {"transform": [{"filter": {"field": "lo", "valid": true}}], "mark": {"type": "area", "interpolate": "step-after", "opacity": 0.22},
                        "encoding": {"y": {"field": "lo", "type": "quantitative", "title": "Survival Probabilities", "scale": {"domain": [-0.05, 1.05], "nice": false, "zero": false}, "axis": {"values": [0, 0.25, 0.5, 0.75, 1], "format": ".2f"}}, "y2": {"field": "hi"}}},
                       {"mark": {"type": "line", "interpolate": "step-after", "strokeWidth": 1}},
                       {"transform": [{"filter": {"field": "c", "equal": 1}}], "mark": {"type": "point", "shape": "M0,-1V1M-0.6,0H0.6", "size": 12, "filled": false, "strokeWidth": 0.7, "opacity": 1}}
                     ]}
                  ]}
                ]}
              ]
            },
            {"width": 220, "height": 2, "view": {"fill": "#7a7a7a", "stroke": null}, "data": {"values": []}, "mark": "point"}
          ]
        },
        {"width": 2, "height": 415, "view": {"fill": "#7a7a7a", "stroke": null}, "data": {"values": []}, "mark": "point"}
      ]
    },
    {
      "title": {"text": "Subtypes", "anchor": "start", "offset": -14, "dx": 5, "fontSize": 9.5, "color": "#222222", "fontWeight": "normal"},
      "spacing": 0,
      "hconcat": [
        {"width": 2, "height": 415, "view": {"fill": "#7a7a7a", "stroke": null}, "data": {"values": []}, "mark": "point"},
        {
          "spacing": 0,
          "vconcat": [
            {"width": 444, "height": 2, "view": {"fill": "#7a7a7a", "stroke": null}, "data": {"values": []}, "mark": "point"},
            {
              "spacing": 2,
              "hconcat": [
                {"width": 8, "height": 411, "data": {"values": []}, "mark": "point"},
                {"spacing": 0, "vconcat": [
                  {"width": 1, "height": 22.5, "data": {"values": []}, "mark": "point"},
                  {"width": 14, "height": 13, "view": {"fill": "#141414", "stroke": null, "cornerRadius": 3}, "data": {"values": [{}]}, "mark": {"type": "text", "text": "D", "color": "#ffffff", "fontSize": 11, "fontWeight": "bold", "baseline": "middle", "align": "center", "dy": 0.5}},
                  {"width": 1, "height": 119, "data": {"values": []}, "mark": "point"},
                  {"width": 14, "height": 13, "view": {"fill": "#141414", "stroke": null, "cornerRadius": 3}, "data": {"values": [{}]}, "mark": {"type": "text", "text": "E", "color": "#ffffff", "fontSize": 11, "fontWeight": "bold", "baseline": "middle", "align": "center", "dy": 0.5}},
                  {"width": 1, "height": 123, "data": {"values": []}, "mark": "point"},
                  {"width": 14, "height": 13, "view": {"fill": "#141414", "stroke": null, "cornerRadius": 3}, "data": {"values": [{}]}, "mark": {"type": "text", "text": "F", "color": "#ffffff", "fontSize": 11, "fontWeight": "bold", "baseline": "middle", "align": "center", "dy": 0.5}}
                ]},
                {"spacing": 8.2, "vconcat": [
                  {"width": 1, "height": 0.5, "data": {"values": []}, "mark": "point"},
                  {"spacing": 14.5, "vconcat": [
                    {"width": 174, "height": 95,
                     "title": {"text": "WNT + Group 3α", "subtitle": "HR (High) = 0.57, 95%CI: 0.42-0.77, p < 0.001"},
                     "data": {"name": "km"}, "transform": [{"filter": {"field": "p", "equal": "D"}}],
                     "encoding": {
                       "x": {"field": "t", "type": "quantitative", "title": "Time (Months)", "scale": {"domain": [-11, 212], "nice": false, "zero": false}, "axis": {"values": [0, 50, 100, 150, 200]}},
                       "y": {"field": "s", "type": "quantitative", "title": "Survival Probabilities", "scale": {"domain": [-0.05, 1.05], "nice": false, "zero": false}, "axis": {"values": [0, 0.25, 0.5, 0.75, 1], "format": ".2f"}},
                       "color": {"field": "g", "type": "nominal", "legend": {"title": ["ST6GAL2", "expression"]}}
                     },
                     "layer": [
                       {"transform": [{"filter": {"field": "lo", "valid": true}}], "mark": {"type": "area", "interpolate": "step-after", "opacity": 0.22},
                        "encoding": {"y": {"field": "lo", "type": "quantitative", "title": "Survival Probabilities", "scale": {"domain": [-0.05, 1.05], "nice": false, "zero": false}, "axis": {"values": [0, 0.25, 0.5, 0.75, 1], "format": ".2f"}}, "y2": {"field": "hi"}}},
                       {"mark": {"type": "line", "interpolate": "step-after", "strokeWidth": 1}},
                       {"transform": [{"filter": {"field": "c", "equal": 1}}], "mark": {"type": "point", "shape": "M0,-1V1M-0.6,0H0.6", "size": 12, "filled": false, "strokeWidth": 0.7, "opacity": 1}}
                     ]},
                    {"width": 174, "height": 95,
                     "title": {"text": "WNT + Group 3β*", "subtitle": "HR (High) = 0.68, 95%CI: 0.47-0.97, p = 0.04"},
                     "data": {"name": "km"}, "transform": [{"filter": {"field": "p", "equal": "E"}}],
                     "encoding": {
                       "x": {"field": "t", "type": "quantitative", "title": "Time (Months)", "scale": {"domain": [-12.6, 264], "nice": false, "zero": false}, "axis": {"values": [0, 50, 100, 150, 200, 250]}},
                       "y": {"field": "s", "type": "quantitative", "title": "Survival Probabilities", "scale": {"domain": [-0.05, 1.05], "nice": false, "zero": false}, "axis": {"values": [0, 0.25, 0.5, 0.75, 1], "format": ".2f"}},
                       "color": {"field": "g", "type": "nominal", "legend": {"title": ["ST6GAL2", "expression"]}}
                     },
                     "layer": [
                       {"transform": [{"filter": {"field": "lo", "valid": true}}], "mark": {"type": "area", "interpolate": "step-after", "opacity": 0.22},
                        "encoding": {"y": {"field": "lo", "type": "quantitative", "title": "Survival Probabilities", "scale": {"domain": [-0.05, 1.05], "nice": false, "zero": false}, "axis": {"values": [0, 0.25, 0.5, 0.75, 1], "format": ".2f"}}, "y2": {"field": "hi"}}},
                       {"mark": {"type": "line", "interpolate": "step-after", "strokeWidth": 1}},
                       {"transform": [{"filter": {"field": "c", "equal": 1}}], "mark": {"type": "point", "shape": "M0,-1V1M-0.6,0H0.6", "size": 12, "filled": false, "strokeWidth": 0.7, "opacity": 1}}
                     ]},
                    {"width": 174, "height": 95,
                     "title": {"text": "WNT + Group 3γ", "subtitle": "HR (High) = 0.63, 95%CI: 0.48-0.81, p < 0.001"},
                     "data": {"name": "km"}, "transform": [{"filter": {"field": "p", "equal": "F"}}],
                     "encoding": {
                       "x": {"field": "t", "type": "quantitative", "title": "Time (Months)", "scale": {"domain": [-11, 212], "nice": false, "zero": false}, "axis": {"values": [0, 50, 100, 150, 200]}},
                       "y": {"field": "s", "type": "quantitative", "title": "Survival Probabilities", "scale": {"domain": [-0.05, 1.05], "nice": false, "zero": false}, "axis": {"values": [0, 0.25, 0.5, 0.75, 1], "format": ".2f"}},
                       "color": {"field": "g", "type": "nominal", "legend": {"title": ["ST6GAL2", "expression"]}}
                     },
                     "layer": [
                       {"transform": [{"filter": {"field": "lo", "valid": true}}], "mark": {"type": "area", "interpolate": "step-after", "opacity": 0.22},
                        "encoding": {"y": {"field": "lo", "type": "quantitative", "title": "Survival Probabilities", "scale": {"domain": [-0.05, 1.05], "nice": false, "zero": false}, "axis": {"values": [0, 0.25, 0.5, 0.75, 1], "format": ".2f"}}, "y2": {"field": "hi"}}},
                       {"mark": {"type": "line", "interpolate": "step-after", "strokeWidth": 1}},
                       {"transform": [{"filter": {"field": "c", "equal": 1}}], "mark": {"type": "point", "shape": "M0,-1V1M-0.6,0H0.6", "size": 12, "filled": false, "strokeWidth": 0.7, "opacity": 1}}
                     ]}
                  ]}
                ]},
                {"width": 1, "height": 1, "data": {"values": []}, "mark": "point"},
                {"spacing": 0, "vconcat": [
                  {"width": 1, "height": 22.5, "data": {"values": []}, "mark": "point"},
                  {"width": 14, "height": 13, "view": {"fill": "#141414", "stroke": null, "cornerRadius": 3}, "data": {"values": [{}]}, "mark": {"type": "text", "text": "G", "color": "#ffffff", "fontSize": 11, "fontWeight": "bold", "baseline": "middle", "align": "center", "dy": 0.5}},
                  {"width": 1, "height": 119, "data": {"values": []}, "mark": "point"},
                  {"width": 14, "height": 13, "view": {"fill": "#141414", "stroke": null, "cornerRadius": 3}, "data": {"values": [{}]}, "mark": {"type": "text", "text": "H", "color": "#ffffff", "fontSize": 11, "fontWeight": "bold", "baseline": "middle", "align": "center", "dy": 0.5}},
                  {"width": 1, "height": 123, "data": {"values": []}, "mark": "point"},
                  {"width": 14, "height": 13, "view": {"fill": "#141414", "stroke": null, "cornerRadius": 3}, "data": {"values": [{}]}, "mark": {"type": "text", "text": "I", "color": "#ffffff", "fontSize": 11, "fontWeight": "bold", "baseline": "middle", "align": "center", "dy": 0.5}}
                ]},
                {"spacing": 8.2, "vconcat": [
                  {"width": 1, "height": 0.5, "data": {"values": []}, "mark": "point"},
                  {"spacing": 14.5, "vconcat": [
                    {"width": 174, "height": 95,
                     "title": {"text": "WNT + Group 4α", "subtitle": "HR (High) = 0.58, 95%CI: 0.40-0.84, p = 0.006"},
                     "data": {"name": "km"}, "transform": [{"filter": {"field": "p", "equal": "G"}}],
                     "encoding": {
                       "x": {"field": "t", "type": "quantitative", "title": "Time (Months)", "scale": {"domain": [-7.5, 214], "nice": false, "zero": false}, "axis": {"values": [0, 50, 100, 150, 200]}},
                       "y": {"field": "s", "type": "quantitative", "title": "Survival Probabilities", "scale": {"domain": [-0.05, 1.05], "nice": false, "zero": false}, "axis": {"values": [0, 0.25, 0.5, 0.75, 1], "format": ".2f"}},
                       "color": {"field": "g", "type": "nominal", "legend": {"title": ["ST6GAL2", "expression"]}}
                     },
                     "layer": [
                       {"transform": [{"filter": {"field": "lo", "valid": true}}], "mark": {"type": "area", "interpolate": "step-after", "opacity": 0.22},
                        "encoding": {"y": {"field": "lo", "type": "quantitative", "title": "Survival Probabilities", "scale": {"domain": [-0.05, 1.05], "nice": false, "zero": false}, "axis": {"values": [0, 0.25, 0.5, 0.75, 1], "format": ".2f"}}, "y2": {"field": "hi"}}},
                       {"mark": {"type": "line", "interpolate": "step-after", "strokeWidth": 1}},
                       {"transform": [{"filter": {"field": "c", "equal": 1}}], "mark": {"type": "point", "shape": "M0,-1V1M-0.6,0H0.6", "size": 12, "filled": false, "strokeWidth": 0.7, "opacity": 1}}
                     ]},
                    {"width": 174, "height": 95,
                     "title": {"text": "WNT + Group 4β", "subtitle": "HR (High) = 0.58, 95%CI: 0.40-0.84, p = 0.004"},
                     "data": {"name": "km"}, "transform": [{"filter": {"field": "p", "equal": "H"}}],
                     "encoding": {
                       "x": {"field": "t", "type": "quantitative", "title": "Time (Months)", "scale": {"domain": [-7.5, 214], "nice": false, "zero": false}, "axis": {"values": [0, 50, 100, 150, 200]}},
                       "y": {"field": "s", "type": "quantitative", "title": "Survival Probabilities", "scale": {"domain": [-0.05, 1.05], "nice": false, "zero": false}, "axis": {"values": [0, 0.25, 0.5, 0.75, 1], "format": ".2f"}},
                       "color": {"field": "g", "type": "nominal", "legend": {"title": ["ST6GAL2", "expression"]}}
                     },
                     "layer": [
                       {"transform": [{"filter": {"field": "lo", "valid": true}}], "mark": {"type": "area", "interpolate": "step-after", "opacity": 0.22},
                        "encoding": {"y": {"field": "lo", "type": "quantitative", "title": "Survival Probabilities", "scale": {"domain": [-0.05, 1.05], "nice": false, "zero": false}, "axis": {"values": [0, 0.25, 0.5, 0.75, 1], "format": ".2f"}}, "y2": {"field": "hi"}}},
                       {"mark": {"type": "line", "interpolate": "step-after", "strokeWidth": 1}},
                       {"transform": [{"filter": {"field": "c", "equal": 1}}], "mark": {"type": "point", "shape": "M0,-1V1M-0.6,0H0.6", "size": 12, "filled": false, "strokeWidth": 0.7, "opacity": 1}}
                     ]},
                    {"width": 174, "height": 95,
                     "title": {"text": "WNT + Group 4γ", "subtitle": "HR (High : Low) = 0.52, 95%CI: 0.34-0.78, p = 0.002"},
                     "data": {"name": "km"}, "transform": [{"filter": {"field": "p", "equal": "I"}}],
                     "encoding": {
                       "x": {"field": "t", "type": "quantitative", "title": "Time (Months)", "scale": {"domain": [-9.5, 265], "nice": false, "zero": false}, "axis": {"values": [0, 50, 100, 150, 200, 250]}},
                       "y": {"field": "s", "type": "quantitative", "title": "Survival Probabilities", "scale": {"domain": [-0.05, 1.05], "nice": false, "zero": false}, "axis": {"values": [0, 0.25, 0.5, 0.75, 1], "format": ".2f"}},
                       "color": {"field": "g", "type": "nominal", "legend": {"title": ["ST6GAL2", "expression"]}}
                     },
                     "layer": [
                       {"transform": [{"filter": {"field": "lo", "valid": true}}], "mark": {"type": "area", "interpolate": "step-after", "opacity": 0.22},
                        "encoding": {"y": {"field": "lo", "type": "quantitative", "title": "Survival Probabilities", "scale": {"domain": [-0.05, 1.05], "nice": false, "zero": false}, "axis": {"values": [0, 0.25, 0.5, 0.75, 1], "format": ".2f"}}, "y2": {"field": "hi"}}},
                       {"mark": {"type": "line", "interpolate": "step-after", "strokeWidth": 1}},
                       {"transform": [{"filter": {"field": "c", "equal": 1}}], "mark": {"type": "point", "shape": "M0,-1V1M-0.6,0H0.6", "size": 12, "filled": false, "strokeWidth": 0.7, "opacity": 1}}
                     ]}
                  ]}
                ]}
              ]
            },
            {"width": 444, "height": 2, "view": {"fill": "#7a7a7a", "stroke": null}, "data": {"values": []}, "mark": "point"}
          ]
        },
        {"width": 2, "height": 415, "view": {"fill": "#7a7a7a", "stroke": null}, "data": {"values": []}, "mark": "point"}
      ]
    }
  ]
}
